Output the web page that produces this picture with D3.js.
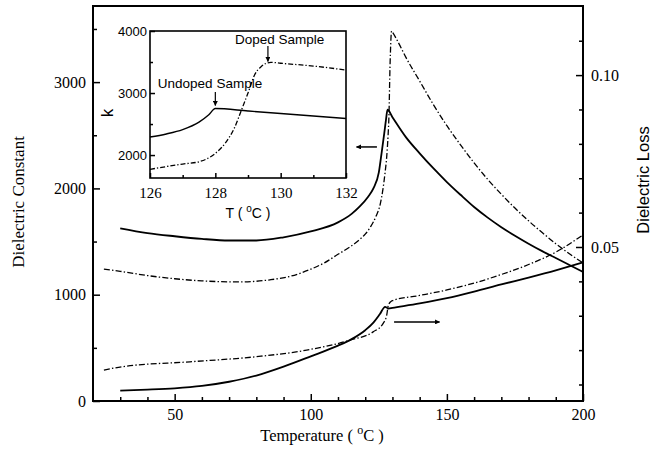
<!DOCTYPE html>
<html>
<head>
<meta charset="utf-8">
<script src="https://cdn.jsdelivr.net/npm/d3@7"></script>
<style>
  html, body { margin: 0; padding: 0; background: #fff; }
  svg { display: block; }
</style>
</head>
<body>
<div id="chart"></div>
<script>
// dielectric constant / loss vs temperature, undoped and doped samples

// main plot: dielectric constant (left axis)
const tempKUndoped = [30, 40, 50, 60, 70, 80, 90, 100, 110, 115, 118, 121, 123, 125, 126, 127, 127.6, 128.2, 130, 135, 140, 145, 150, 155, 160, 165, 170, 175, 180, 185, 190, 195, 200];
const kUndoped     = [1625, 1580, 1550, 1525, 1510, 1510, 1540, 1595, 1680, 1760, 1830, 1920, 2000, 2150, 2330, 2520, 2640, 2740, 2670, 2480, 2330, 2190, 2060, 1940, 1825, 1725, 1635, 1555, 1480, 1410, 1345, 1280, 1215];

const tempKDoped = [24, 30, 40, 50, 60, 74, 85, 92, 100, 105, 110, 115, 118, 120, 122, 124, 125.5, 126.5, 127.3, 127.9, 128.4, 128.7, 129.1, 129.7, 130, 132, 135, 140, 145, 150, 155, 160, 165, 170, 175, 180, 185, 190, 195, 200];
const kDoped     = [1240, 1220, 1180, 1150, 1130, 1120, 1140, 1170, 1240, 1300, 1380, 1460, 1520, 1570, 1640, 1740, 1850, 1990, 2150, 2300, 2500, 2670, 3140, 3480, 3470, 3380, 3230, 3010, 2790, 2590, 2410, 2240, 2085, 1945, 1815, 1695, 1585, 1480, 1385, 1300];

// main plot: dielectric loss (right axis)
const tempLossUndoped = [30, 40, 50, 60, 70, 80, 90, 100, 110, 115, 120, 123, 125.4, 127.3, 128.5, 130, 140, 150, 160, 170, 180, 190, 200];
const lossUndoped     = [0.0082, 0.0085, 0.0089, 0.0096, 0.0108, 0.0126, 0.0152, 0.0182, 0.0213, 0.0232, 0.0258, 0.0280, 0.0305, 0.0326, 0.0321, 0.0323, 0.0336, 0.0351, 0.0370, 0.0391, 0.0411, 0.0432, 0.0455];

const tempLossDoped = [24, 31, 55.6, 80.1, 98.5, 114.4, 122.9, 126.6, 127.9, 128.5, 129.7, 130, 140, 150, 160, 170, 180, 190, 200];
const lossDoped     = [0.0142, 0.0152, 0.0166, 0.0181, 0.0200, 0.0229, 0.0253, 0.0278, 0.0302, 0.0331, 0.0343, 0.0344, 0.0359, 0.0375, 0.0395, 0.0420, 0.0449, 0.0485, 0.0535];

// inset: zoom on the transition
const insetTempUndoped = [126, 126.5, 127, 127.5, 127.8, 128, 129, 130, 131, 132];
const insetKUndoped    = [2290, 2340, 2410, 2530, 2650, 2750, 2710, 2670, 2630, 2590];

const insetTempDoped = [126, 127, 127.5, 128, 128.3, 128.6, 128.8, 129, 129.2, 129.4, 129.7, 130, 131, 132];
const insetKDoped    = [1770, 1855, 1892, 2027, 2190, 2456, 2726, 3000, 3290, 3425, 3495, 3480, 3435, 3370];

// ticks
const xTicks = [50, 100, 150, 200];
const xMinorTicks = [30, 40, 60, 70, 80, 90, 110, 120, 130, 140, 160, 170, 180, 190];
const leftTicks = [0, 1000, 2000, 3000];
const leftMinorTicks = [500, 1500, 2500, 3500];
const rightTicks = [0.05, 0.10];
const rightMinorTicks = [0.01, 0.02, 0.03, 0.04, 0.06, 0.07, 0.08, 0.09, 0.11];
const insetXTicks = [126, 128, 130, 132];
const insetXMinorTicks = [127, 129, 131];
const insetYTicks = [2000, 3000, 4000];
const insetYMinorTicks = [2500, 3500];

const width = 652, height = 463;
const serif = "'Liberation Serif', 'Times New Roman', serif";
const sans = "'Liberation Sans', Arial, sans-serif";

const svg = d3.select('#chart').append('svg')
  .attr('width', width)
  .attr('height', height);

const defs = svg.append('defs');
defs.append('marker')
  .attr('id', 'head')
  .attr('viewBox', '0 0 10 10')
  .attr('refX', 9).attr('refY', 5)
  .attr('markerWidth', 5).attr('markerHeight', 5)
  .attr('markerUnits', 'userSpaceOnUse')
  .attr('orient', 'auto')
  .append('path').attr('d', 'M0,0 L10,5 L0,10 z').attr('fill', '#000');

// scales
const x = d3.scaleLinear().domain([20, 200]).range([93, 583]);
const yL = d3.scaleLinear().domain([0, 3716]).range([401, 6]);
const yR = d3.scaleLinear().domain([0.0052, 0.1201]).range([401, 6]);

const ix = d3.scaleLinear().domain([126, 132]).range([150, 346]);
const iy = d3.scaleLinear().domain([1630, 4000]).range([178, 31]);

const solid = { dash: null, w: 1.8 };
const dashdot = { dash: '6,2.2,1.4,2.2', w: 1.3 };

function drawLine(g, xs, ys, sx, sy, style) {
  const pts = xs.map((t, i) => [t, ys[i]]);
  const line = d3.line()
    .x(d => sx(d[0]))
    .y(d => sy(d[1]))
    .curve(d3.curveMonotoneX);
  g.append('path')
    .attr('d', line(pts))
    .attr('fill', 'none')
    .attr('stroke', '#000')
    .attr('stroke-width', style.w)
    .attr('stroke-dasharray', style.dash);
}

// main curves
const plot = svg.append('g');
drawLine(plot, tempKUndoped, kUndoped, x, yL, solid);
drawLine(plot, tempKDoped, kDoped, x, yL, dashdot);
drawLine(plot, tempLossUndoped, lossUndoped, x, yR, solid);
drawLine(plot, tempLossDoped, lossDoped, x, yR, dashdot);

// axes (ticks inward)
function styleAxis(g, font, size) {
  g.select('.domain').remove();
  g.selectAll('line').attr('stroke', '#000').attr('stroke-width', 1.5);
  g.selectAll('text').attr('font-family', font).attr('font-size', size).attr('fill', '#000');
}

svg.append('g').attr('transform', 'translate(0,401)')
  .call(d3.axisBottom(x).tickValues(xTicks).tickSizeInner(-7).tickSizeOuter(0).tickPadding(8).tickFormat(d3.format('d')))
  .call(g => styleAxis(g, serif, 16));
svg.append('g').attr('transform', 'translate(0,401)')
  .call(d3.axisBottom(x).tickValues(xMinorTicks).tickSizeInner(-4).tickSizeOuter(0).tickFormat(''))
  .call(g => styleAxis(g, serif, 16));

svg.append('g').attr('transform', 'translate(93,0)')
  .call(d3.axisLeft(yL).tickValues(leftTicks).tickSizeInner(-7).tickSizeOuter(0).tickPadding(7).tickFormat(d3.format('d')))
  .call(g => styleAxis(g, serif, 16));
svg.append('g').attr('transform', 'translate(93,0)')
  .call(d3.axisLeft(yL).tickValues(leftMinorTicks).tickSizeInner(-4).tickSizeOuter(0).tickFormat(''))
  .call(g => styleAxis(g, serif, 16));

svg.append('g').attr('transform', 'translate(583,0)')
  .call(d3.axisRight(yR).tickValues(rightTicks).tickSizeInner(-7).tickSizeOuter(0).tickPadding(8).tickFormat(d3.format('.2f')))
  .call(g => styleAxis(g, serif, 16));
svg.append('g').attr('transform', 'translate(583,0)')
  .call(d3.axisRight(yR).tickValues(rightMinorTicks).tickSizeInner(-4).tickSizeOuter(0).tickFormat(''))
  .call(g => styleAxis(g, serif, 16));

// frame
svg.append('rect')
  .attr('x', x.range()[0]).attr('y', yL.range()[1])
  .attr('width', x.range()[1] - x.range()[0])
  .attr('height', yL.range()[0] - yL.range()[1])
  .attr('fill', 'none').attr('stroke', '#000').attr('stroke-width', 2);

// axis titles
svg.append('text')
  .attr('transform', 'translate(24,202) rotate(-90)')
  .attr('text-anchor', 'middle')
  .attr('font-family', serif).attr('font-size', 17)
  .text('Dielectric Constant');

svg.append('text')
  .attr('transform', 'translate(649,180) rotate(-90)')
  .attr('text-anchor', 'middle')
  .attr('font-family', sans).attr('font-size', 16.5)
  .text('Dielectric Loss');

const xt = svg.append('text')
  .attr('x', 322).attr('y', 441)
  .attr('text-anchor', 'middle')
  .attr('font-family', serif).attr('font-size', 16.5);
xt.append('tspan').text('Temperature ( ');
xt.append('tspan').attr('font-size', 12).attr('dy', -7).text('o');
xt.append('tspan').attr('dy', 7).text('C )');

// arrows showing which axis each pair of curves uses
function arrow(g, x1, y1, x2, y2, w) {
  g.append('line')
    .attr('x1', x1).attr('y1', y1).attr('x2', x2).attr('y2', y2)
    .attr('stroke', '#000').attr('stroke-width', w)
    .attr('marker-end', 'url(#head)');
}
arrow(svg, x(124.3), yL(2390), x(116.8), yL(2390), 1.5);
arrow(svg, x(130.6), yR(0.0282), x(147.3), yR(0.0282), 1.5);

// inset
const inset = svg.append('g');
inset.append('rect')
  .attr('x', ix.range()[0]).attr('y', iy.range()[1])
  .attr('width', ix.range()[1] - ix.range()[0])
  .attr('height', iy.range()[0] - iy.range()[1])
  .attr('fill', '#fff');

drawLine(inset, insetTempUndoped, insetKUndoped, ix, iy, { dash: null, w: 1.4 });
drawLine(inset, insetTempDoped, insetKDoped, ix, iy, { dash: '5,2,1.3,2', w: 1.3 });

inset.append('g').attr('transform', 'translate(0,178)')
  .call(d3.axisBottom(ix).tickValues(insetXTicks).tickSizeInner(-5).tickSizeOuter(0).tickPadding(9).tickFormat(d3.format('d')))
  .call(g => styleAxis(g, serif, 15));
inset.append('g').attr('transform', 'translate(0,178)')
  .call(d3.axisBottom(ix).tickValues(insetXMinorTicks).tickSizeInner(-3).tickSizeOuter(0).tickFormat(''))
  .call(g => styleAxis(g, serif, 15));
inset.append('g').attr('transform', 'translate(150,0)')
  .call(d3.axisLeft(iy).tickValues(insetYTicks).tickSizeInner(-5).tickSizeOuter(0).tickPadding(3).tickFormat(d3.format('d')))
  .call(g => styleAxis(g, sans, 13));
inset.append('g').attr('transform', 'translate(150,0)')
  .call(d3.axisLeft(iy).tickValues(insetYMinorTicks).tickSizeInner(-3).tickSizeOuter(0).tickFormat(''))
  .call(g => styleAxis(g, sans, 13));

inset.append('rect')
  .attr('x', ix.range()[0]).attr('y', iy.range()[1])
  .attr('width', ix.range()[1] - ix.range()[0])
  .attr('height', iy.range()[0] - iy.range()[1])
  .attr('fill', 'none').attr('stroke', '#000').attr('stroke-width', 1.6);

inset.append('text')
  .attr('transform', 'translate(113,113) rotate(-90)')
  .attr('text-anchor', 'middle')
  .attr('font-family', sans).attr('font-size', 17)
  .text('k');

const it = inset.append('text')
  .attr('x', 248).attr('y', 218)
  .attr('text-anchor', 'middle')
  .attr('font-family', sans).attr('font-size', 14);
it.append('tspan').text('T ( ');
it.append('tspan').attr('font-size', 10).attr('dy', -6).text('o');
it.append('tspan').attr('dy', 6).text('C )');

inset.append('text')
  .attr('x', ix(126.24)).attr('y', iy(3162)).attr('dy', '0.35em')
  .attr('font-family', sans).attr('font-size', 13.5)
  .text('Undoped Sample');
arrow(inset, ix(128), iy(3016), ix(128), iy(2800), 1.2);

inset.append('text')
  .attr('x', ix(128.6)).attr('y', iy(3872)).attr('dy', '0.35em')
  .attr('font-family', sans).attr('font-size', 13.5)
  .text('Doped Sample');
arrow(inset, ix(129.61), iy(3758), ix(129.61), iy(3510), 1.2);
</script>
</body>
</html>
